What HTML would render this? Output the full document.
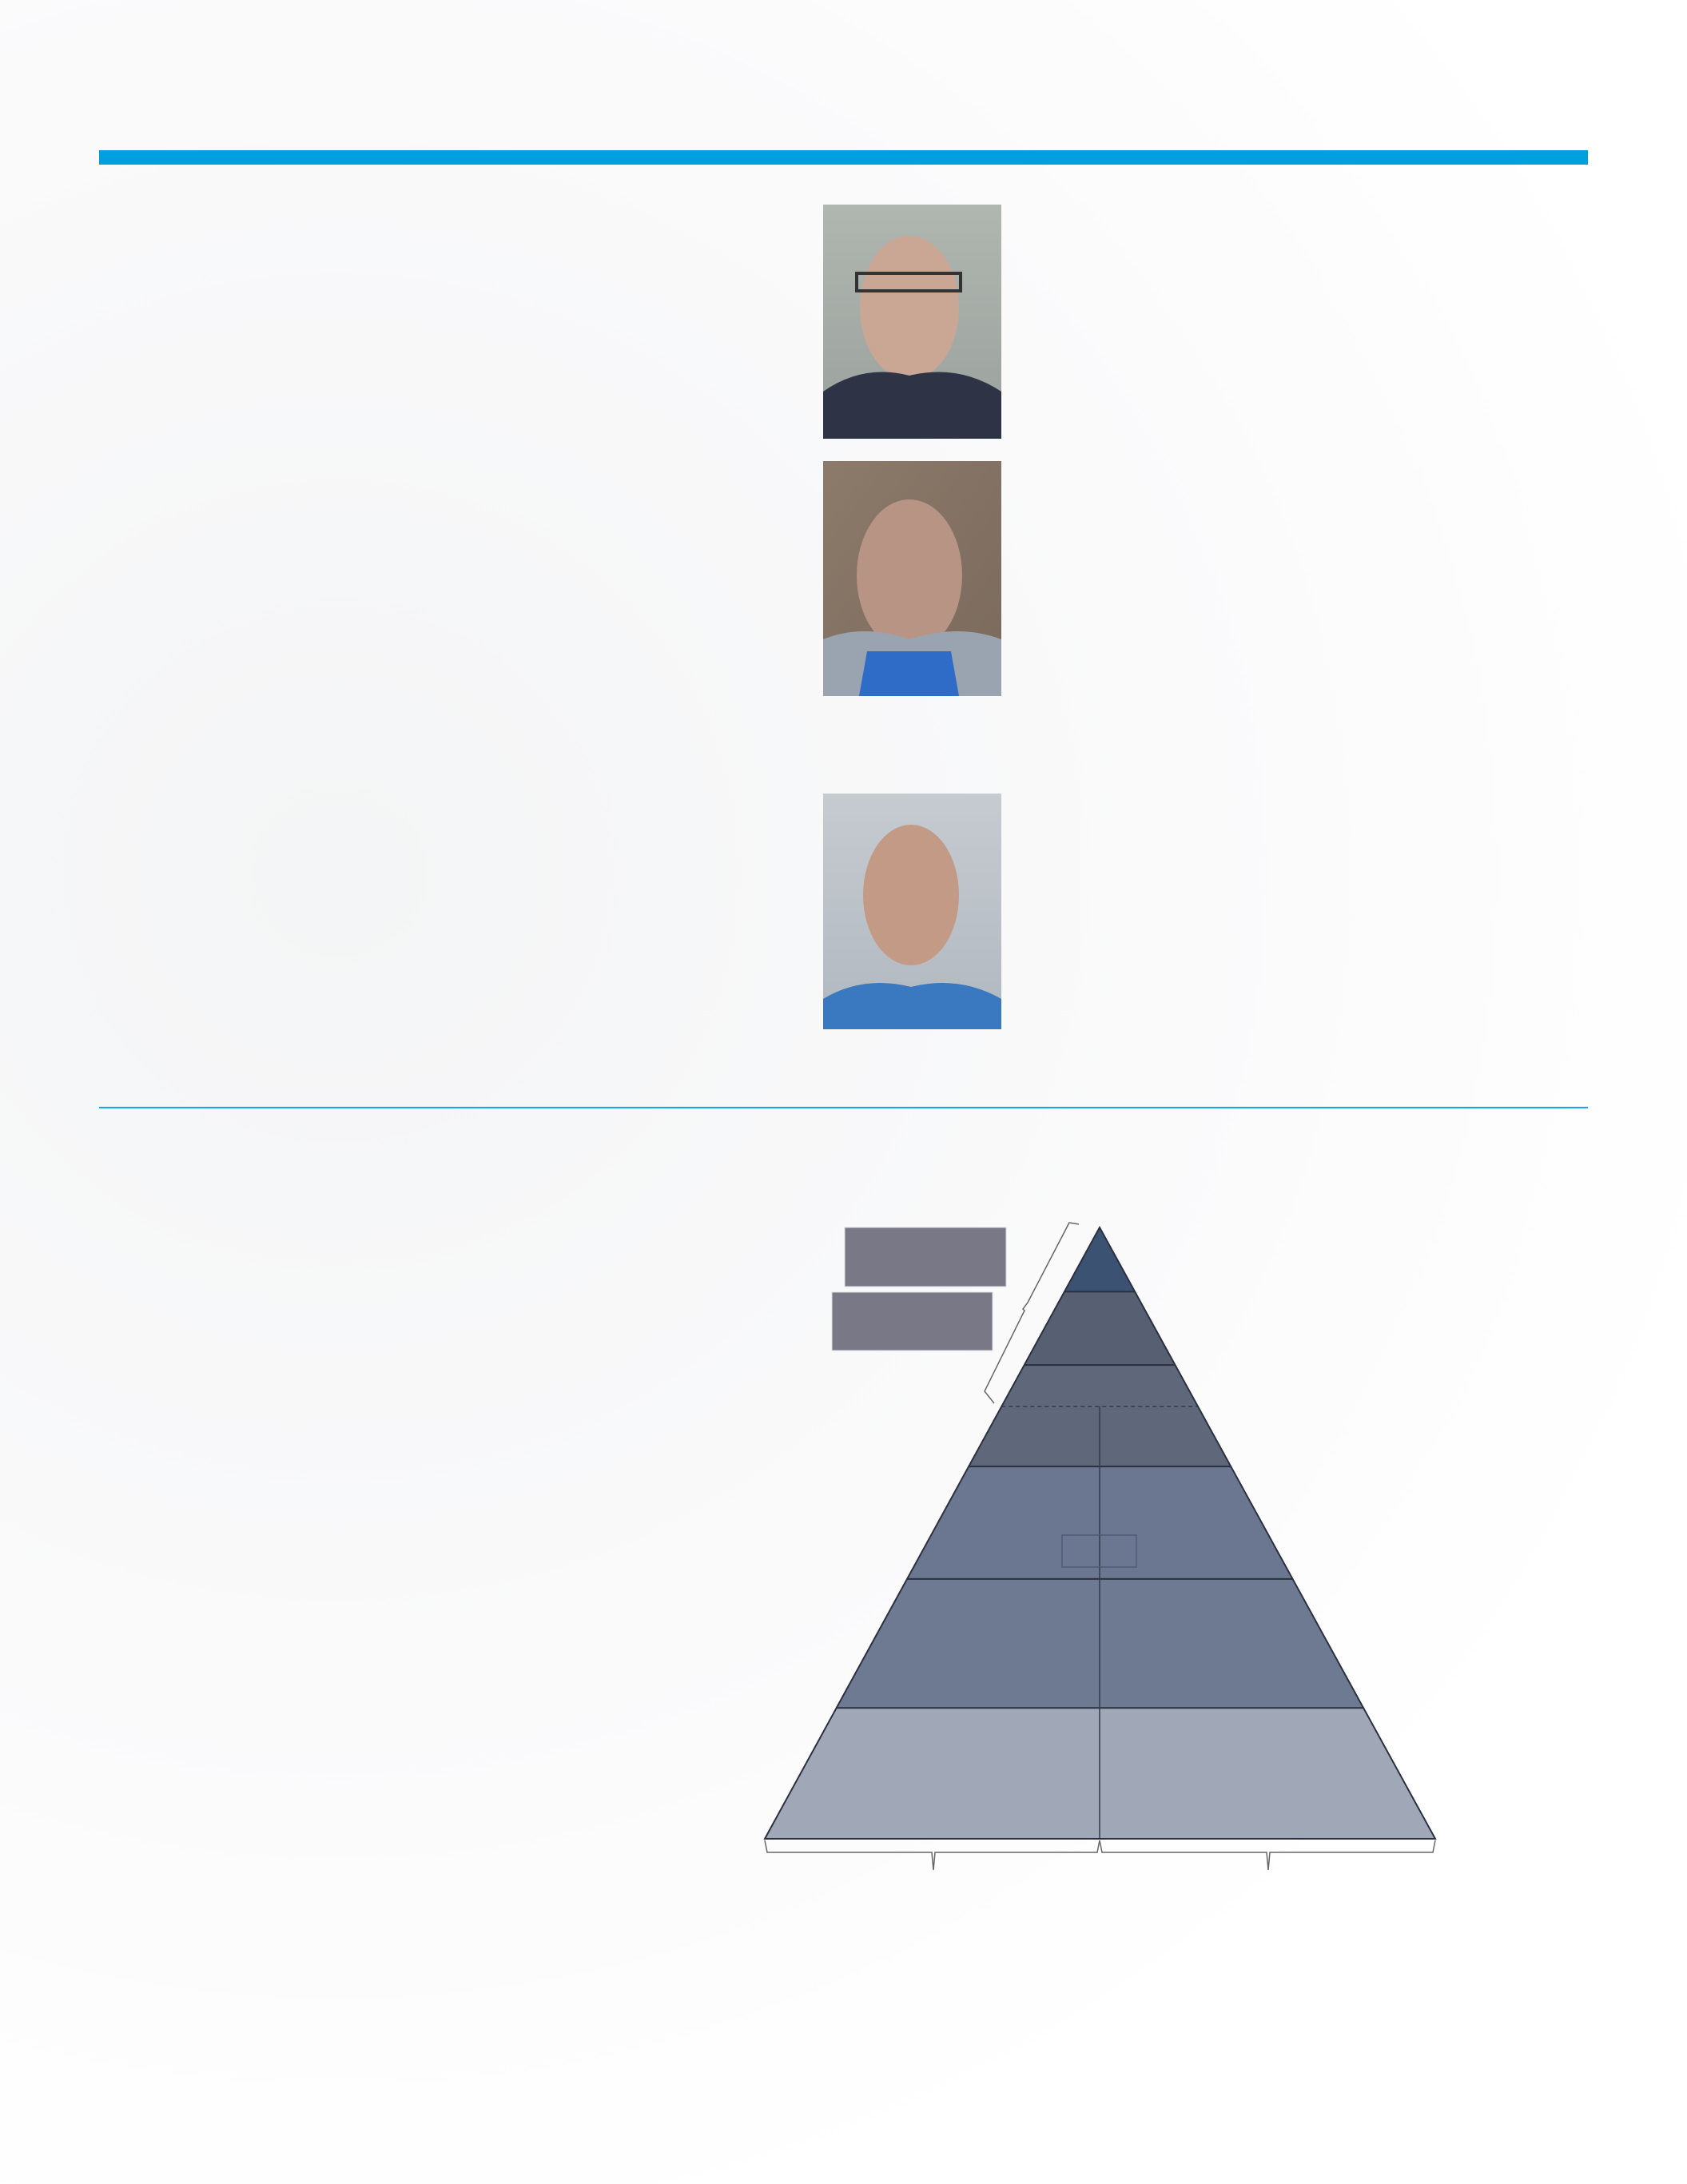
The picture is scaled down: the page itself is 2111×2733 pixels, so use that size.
<!DOCTYPE html>
<html><head><meta charset="utf-8"><style>
html,body{margin:0;padding:0;background:#fff}
#page{position:relative;width:2111px;height:2733px;overflow:hidden;background:radial-gradient(ellipse at 20% 40%,#f4f5f6 0%,#fafafb 45%,#fff 75%);font-family:"Liberation Sans",sans-serif}
.abs{position:absolute}
</style></head><body>
<div id="page">
<div class="abs" style="left:124px;top:188px;width:1863px;height:18px;background:#009fe0"></div>
<div class="abs" style="left:124px;top:1385px;width:1863px;height:2px;background:#1aa4e0"></div>
<svg class="abs" style="left:0;top:0" width="2111" height="2733">
 <defs>
  <linearGradient id="g1" x1="0" y1="0" x2="0" y2="1"><stop offset="0" stop-color="#b0b6b0"/><stop offset="1" stop-color="#9aa09c"/></linearGradient>
  <linearGradient id="g2" x1="0" y1="0" x2="1" y2="1"><stop offset="0" stop-color="#8c7a6a"/><stop offset="1" stop-color="#7a6a5c"/></linearGradient>
  <linearGradient id="g3" x1="0" y1="0" x2="0" y2="1"><stop offset="0" stop-color="#c6cbd0"/><stop offset="1" stop-color="#b0b8c0"/></linearGradient>
 </defs>
 <g>
  <rect x="1030" y="256" width="223" height="293" fill="url(#g1)"/>
  <ellipse cx="1138" cy="385" rx="62" ry="90" fill="#c9a794"/>
  <path d="M1030 549 L1030 490 Q1080 455 1138 470 Q1200 455 1253 490 L1253 549Z" fill="#2e3446"/>
  <rect x="1072" y="342" width="130" height="22" fill="none" stroke="#333" stroke-width="4"/>
 </g>
 <g>
  <rect x="1030" y="577" width="223" height="294" fill="url(#g2)"/>
  <ellipse cx="1138" cy="720" rx="66" ry="95" fill="#b89484"/>
  <path d="M1030 871 L1030 800 Q1080 780 1138 800 Q1200 780 1253 800 L1253 871Z" fill="#9aa4b0"/>
  <path d="M1075 871 L1085 815 L1190 815 L1200 871Z" fill="#2f6cc8"/>
 </g>
 <g>
  <rect x="1030" y="993" width="223" height="295" fill="url(#g3)"/>
  <ellipse cx="1140" cy="1120" rx="60" ry="88" fill="#c29a86"/>
  <path d="M1030 1288 L1030 1250 Q1080 1220 1140 1235 Q1200 1220 1253 1250 L1253 1288Z" fill="#3a78c0"/>
 </g>
</svg>
<svg id="pyr" class="abs" style="left:0;top:0" width="2111" height="2733"></svg>
</div>
<script>
// band boundaries as fraction of pyramid height from apex (0) to base (1)
const splits=[0,0.105,0.225,0.391,0.575,0.786,1.0];
const bandColors=["#3b5273","#575f72","#5f687a","#6b7690","#6e7a92","#a0a7b6"];
const solidDividers=[0.105,0.225,0.391,0.575,0.786];
const dashedDivider=0.293;
const apex={x:1376,y:1536}, baseY=2301, baseL=957, baseR=1796;
function yS(f){return apex.y+f*(baseY-apex.y);}
function xL(f){return apex.x+f*(baseL-apex.x);}
function xR(f){return apex.x+f*(baseR-apex.x);}
const svg=document.getElementById('pyr');const NS="http://www.w3.org/2000/svg";
function mk(t,a){const e=document.createElementNS(NS,t);for(const k in a)e.setAttribute(k,a[k]);svg.appendChild(e);return e;}
for(let i=0;i<splits.length-1;i++){
 const a=splits[i],b=splits[i+1];
 const p=mk('polygon',{points:`${xL(a)},${yS(a)} ${xR(a)},${yS(a)} ${xR(b)},${yS(b)} ${xL(b)},${yS(b)}`,fill:bandColors[i]});
 
 
}
solidDividers.forEach(f=>{const l=mk('line',{x1:xL(f),y1:yS(f),x2:xR(f),y2:yS(f),stroke:'#2a3040','stroke-width':2});
 });
const d=mk('line',{x1:xL(dashedDivider),y1:yS(dashedDivider),x2:xR(dashedDivider),y2:yS(dashedDivider),stroke:'#333a48','stroke-width':1.5,'stroke-dasharray':'5,4'});

const c=mk('line',{x1:apex.x,y1:yS(dashedDivider),x2:apex.x,y2:baseY,stroke:'#333a48','stroke-width':1.5});

const o=mk('polygon',{points:`${apex.x},${apex.y} ${baseR},${baseY} ${baseL},${baseY}`,fill:'none',stroke:'#2a3040','stroke-width':2});

const r=mk('rect',{x:1329,y:1921,width:93,height:40,fill:'none',stroke:'#4f5a78','stroke-width':1.5});

const b1=mk('rect',{x:1057,y:1536,width:202,height:74,fill:'#787886',stroke:'#ddd','stroke-width':1});

const b2=mk('rect',{x:1041,y:1617,width:201,height:73,fill:'#787886',stroke:'#ddd','stroke-width':1});

const br=mk('path',{d:'M1350 1532 L1338 1530 L1286 1630 L1280 1638 L1282 1640 L1232 1741 L1244 1756',fill:'none',stroke:'#666','stroke-width':1.5});

const bb=mk('path',{d:`M${baseL} 2303 L${baseL+3} 2318 L1166 2318 L1168 2340 L1170 2318 L1373 2318 L1376 2303 L1379 2318 L1585 2318 L1587 2340 L1589 2318 L${baseR-3} 2318 L${baseR} 2303`,fill:'none',stroke:'#666','stroke-width':1.5});

</script>
</body></html>
